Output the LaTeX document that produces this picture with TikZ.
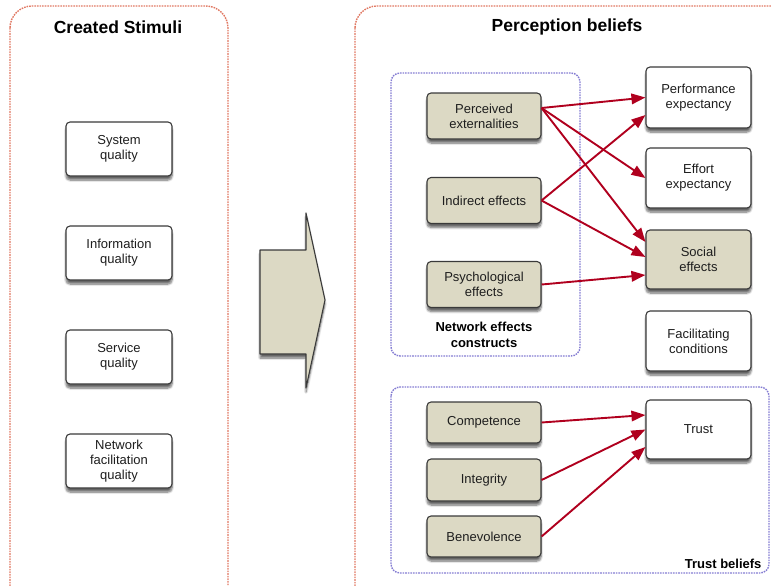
\documentclass[tikz,border=0pt]{standalone}
\usepackage{fontspec}
\setmainfont{Liberation Sans}
\usetikzlibrary{arrows.meta,shadows.blur,calc}
\definecolor{panelred}{HTML}{E07862}
\definecolor{groupblue}{HTML}{847CD2}
\definecolor{tanfill}{HTML}{DCD9C4}
\definecolor{boxedge}{HTML}{3A3A3A}
\definecolor{linkred}{HTML}{B0001E}
\definecolor{txt}{HTML}{1E1E1E}
\tikzset{
  panel/.style={draw=panelred, line width=1.4pt, dash pattern=on 1.6pt off 1pt, rounded corners=22pt},
  group/.style={draw=groupblue, line width=1.4pt, dash pattern=on 1.6pt off 1pt, rounded corners=9pt},
  basebox/.style={draw=boxedge, line width=1.1pt, rounded corners=4pt, align=center, text=txt,
    font=\fontsize{13}{15}\selectfont, inner sep=2pt,
    blur shadow={shadow xshift=0pt, shadow yshift=-4pt, shadow blur steps=8, shadow opacity=60}},
  stimbox/.style={basebox, fill=white, minimum width=106pt, minimum height=54pt},
  tanbox/.style={basebox, fill=tanfill, minimum width=114pt, minimum height=#1},
  outbox/.style={basebox, fill=white, minimum width=105pt, minimum height=#1},
  link/.style={draw=linkred, line width=1.9pt, -{Triangle[length=14pt,width=10.5pt]}},
  title/.style={font=\bfseries\fontsize{17.5}{20}\selectfont, text=black},
  grouplabel/.style={font=\bfseries\fontsize{13}{16}\selectfont, text=black, align=center}
}
\begin{document}
\begin{tikzpicture}[x=1pt,y=-1pt]
\useasboundingbox (0,0) rectangle (771,586);
\clip (0,0) rectangle (771,586);

% outer panels
\draw[panel] (10,6) rectangle (228,640);
\draw[panel] (355,6) rectangle (820,640);
\node[title] (t1) at (118,27) {Created Stimuli};
\node[title] (t2) at (567,27) {Perception beliefs};

% created stimuli
\node[stimbox] (sq)  at (119,149) {System\\quality};
\node[stimbox] (iq)  at (119,253) {Information\\quality};
\node[stimbox] (svq) at (119,357) {Service\\quality};
\node[stimbox] (nfq) at (119,461) {Network\\facilitation\\quality};

% block arrow between the panels
\draw[draw=boxedge, line width=1.1pt, fill=tanfill, line join=round,
  blur shadow={shadow xshift=0pt, shadow yshift=-4pt, shadow blur steps=8, shadow opacity=60}]
  (260,250) -- (306,250) -- (306,213) -- (325,300) -- (306,388) -- (306,354) -- (260,354) -- cycle;

% groups
\draw[group] (391,73) rectangle (580,356);
\node[grouplabel] (nlab) at (484,335) {Network effects\\constructs};
\draw[group] (391,387) rectangle (769,573);
\node[grouplabel, anchor=east] (tlab) at (765,564) {Trust beliefs};

% network effects constructs
\node[tanbox=46pt] (pe) at (484,116)   {Perceived\\externalities};
\node[tanbox=46pt] (ie) at (484,200.5) {Indirect effects};
\node[tanbox=46pt] (ps) at (484,284.5) {Psychological\\effects};

% perception beliefs
\node[outbox=61pt] (perf) at (698.5,97.5) {Performance\\expectancy};
\node[outbox=60pt] (eff)  at (698.5,178)  {Effort\\expectancy};
\node[basebox, fill=tanfill, minimum width=105pt, minimum height=59pt] (soc) at (698.5,259.5) {Social\\effects};
\node[outbox=60pt] (fac)  at (698.5,341)  {Facilitating\\conditions};

% trust beliefs
\node[tanbox=41pt] (comp)  at (484,422.5) {Competence};
\node[tanbox=42pt] (integ) at (484,480)   {Integrity};
\node[tanbox=41pt] (bene)  at (484,536.5) {Benevolence};
\node[outbox=59pt] (trust) at (698.5,429.5) {Trust};

% links
\draw[link] ([yshift=8pt]pe.east) -- (perf.west);
\draw[link] ([yshift=8pt]pe.east) -- (eff.west);
\draw[link] ([yshift=8pt]pe.east) -- ([yshift=17.5pt]soc.west);
\draw[link] (ie.east) -- ([yshift=-17.5pt]perf.west);
\draw[link] (ie.east) -- ([yshift=2.5pt]soc.west);
\draw[link] (ps.east) -- ([yshift=-15.5pt]soc.west);
\draw[link] (comp.east) -- ([yshift=14.5pt]trust.west);
\draw[link] (integ.east) -- (trust.west);
\draw[link] (bene.east) -- ([yshift=-17.5pt]trust.west);
\end{tikzpicture}
\end{document}
